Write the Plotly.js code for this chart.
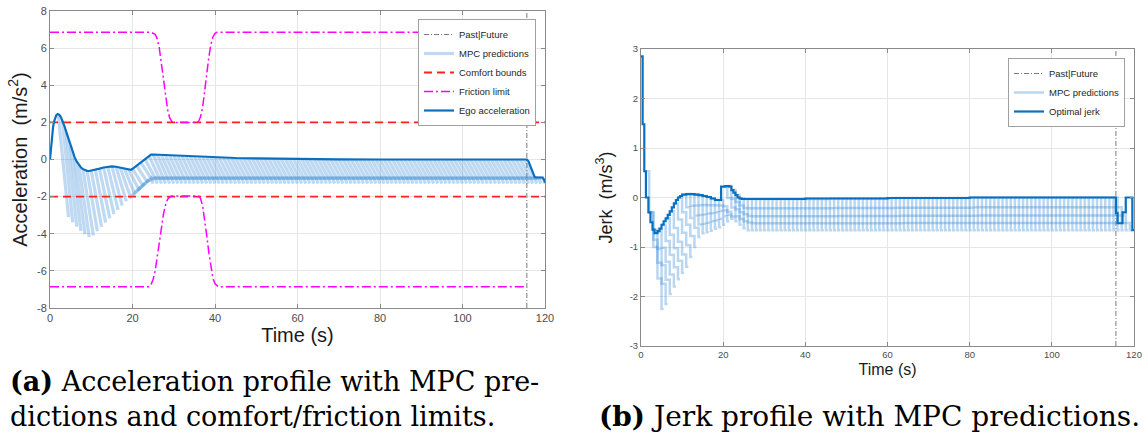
<!DOCTYPE html>
<html><head><meta charset="utf-8">
<script src="https://cdn.plot.ly/plotly-3.0.1.min.js"></script>
<style>html,body{margin:0;padding:0;background:#fff}#chart{width:1146px;height:438px}</style>
</head><body><div id="chart"></div><script>
// ---------- data ----------
const xTickVals = [0, 20, 40, 60, 80, 100, 120];
const xTickText = ['0', '20', '40', '60', '80', '100', '120'];
const accTickVals = [-8, -6, -4, -2, 0, 2, 4, 6, 8];
const accTickText = ['-8', '-6', '-4', '-2', '0', '2', '4', '6', '8'];
const jerkTickVals = [-3, -2, -1, 0, 1, 2, 3];
const jerkTickText = ['-3', '-2', '-1', '0', '1', '2', '3'];

const pastFutureT = 115.6;

// ego acceleration (m/s^2)
const egoAccT = [0,0.25,0.5,0.75,1,1.25,1.5,1.85,2.2,2.6,3,3.5,4,4.5,5,5.5,6,6.5,7,7.5,8,8.5,9,9.5,10,11,12,13,14,15,16,17,18,19,19.6,20,21,22,23,24,24.5,25,26,27,28,30,35,40,45,50,55,60,70,80,90,100,110,115.6,116,116.5,117,117.5,118,119.4,119.8,120];
const egoAcc = [0,0.7,1.3,1.75,2.05,2.25,2.38,2.45,2.42,2.3,2.1,1.8,1.45,1.1,0.75,0.4,0.1,-0.12,-0.3,-0.43,-0.52,-0.58,-0.61,-0.62,-0.6,-0.55,-0.49,-0.43,-0.39,-0.37,-0.39,-0.43,-0.48,-0.53,-0.56,-0.5,-0.33,-0.15,0.03,0.2,0.26,0.27,0.26,0.24,0.22,0.2,0.15,0.11,0.08,0.06,0.04,0.03,0.01,0,0,0,0,0,-0.1,-0.4,-0.75,-0.95,-0.97,-0.97,-1.1,-1.25];

// comfort bounds
const comfortT = [0, 120];
const comfortUpper = [2, 2];
const comfortLower = [-2, -2];

// friction limit
const fricUpT = [0,24.5,25.5,26,26.5,27,27.5,28,28.5,29,29.5,30,35.5,36,36.5,37,37.5,38,38.5,39,39.5,40,40.5,115];
const fricUp = [6.85,6.85,6.75,6.5,6.0,5.2,4.3,3.4,2.7,2.25,2.05,2.0,2.0,2.05,2.3,2.8,3.6,4.6,5.5,6.2,6.6,6.8,6.85,6.85];
const fricLowT = [0,24,24.5,25,25.5,26,26.5,27,27.5,28,28.5,29,29.5,36,36.5,37,37.5,38,38.5,39,39.5,40,40.8,115];
const fricLow = [-6.85,-6.85,-6.75,-6.45,-6.0,-5.2,-4.4,-3.6,-2.95,-2.45,-2.15,-2.02,-1.97,-1.97,-2.1,-2.5,-3.2,-4.1,-5.0,-5.8,-6.4,-6.7,-6.85,-6.85];

// MPC acceleration predictions: start time, start value, lowest value, then flat part and tail (null = none)
const accPredT = [2,3,4,5,6,7,8,9,10,11,12,13,14,15,16,17,18,19,20,21,22,23,24,25,26,27,28,29,30,31,32,33,34,35,36,37,38,39,40,41,42,43,44,45,46,47,48,49,50,51,52,53,54,55,56,57,58,59,60,61,62,63,64,65,66,67,68,69,70,71,72,73,74,75,76,77,78,79,80,81,82,83,84,85,86,87,88,89,90,91,92,93,94,95,96,97,98,99,100,101,102,103,104,105,106,107,108,109,110,111,112,113,114,115];
const accPredStart = [
 2.42,2.1,1.45,0.75,0.1,-0.3,-0.52,-0.61,-0.6,-0.55,
 -0.49,-0.43,-0.39,-0.37,-0.39,-0.43,-0.48,-0.53,-0.5,-0.33,
 -0.15,0.03,0.2,0.27,0.26,0.24,0.22,0.21,0.2,0.19,
 0.18,0.17,0.16,0.15,0.14,0.13,0.12,0.12,0.11,0.1,
 0.1,0.09,0.09,0.08,0.08,0.07,0.07,0.06,0.06,0.06,
 0.05,0.05,0.05,0.04,0.04,0.04,0.03,0.03,0.03,0.02,
 0.02,0.02,0.02,0.02,0.02,0.01,0.01,0.01,0.01,0.01,
 0.01,0.01,0.01,0.01,0,0,0,0,0,0,
 0,0,0,0,0,0,0,0,0,0,
 0,0,0,0,0,0,0,0,0,0,
 0,0,0,0,0,0,0,0,0,0,
 0,0,0,0];
const accPredLow = [
 -3.1,-3.38,-3.62,-3.85,-4.03,-4.17,-4.09,-3.86,-3.63,-3.4,
 -3.17,-2.94,-2.71,-2.48,-2.25,-2.02,-1.82,-1.6,-1.4,-1.19,
 -1,-1,-1,-1,-1,-1,-1,-1,-1,-1,
 -1,-1,-1,-1,-1,-1,-1,-1,-1,-1,
 -1,-1,-1,-1,-1,-1,-1,-1,-1,-1,
 -1,-1,-1,-1,-1,-1,-1,-1,-1,-1,
 -1,-1,-1,-1,-1,-1,-1,-1,-1,-1,
 -1,-1,-1,-1,-1,-1,-1,-1,-1,-1,
 -1,-1,-1,-1,-1,-1,-1,-1,-1,-1,
 -1,-1,-1,-1,-1,-1,-1,-1,-1,-1,
 -1,-1,-1,-1,-1,-1,-1,-1,-1,-1,
 -1,-1,-1,-1];
const accPredMid = [
 null,null,null,null,null,null,null,null,null,null,
 null,null,null,null,null,-1.6,-1.4,-1.19,-1,-1,
 -1,-1,-1,-1,-1,-1,-1,-1,-1,-1,
 -1,-1,-1,-1,-1,-1,-1,-1,-1,-1,
 -1,-1,-1,-1,-1,-1,-1,-1,-1,-1,
 -1,-1,-1,-1,-1,-1,-1,-1,-1,-1,
 -1,-1,-1,-1,-1,-1,-1,-1,-1,-1,
 -1,-1,-1,-1,-1,-1,-1,-1,-1,-1,
 -1,-1,-1,-1,-1,-1,-1,-1,-1,-1,
 -1,-1,-1,-1,-1,-1,-1,-1,-1,-1,
 -1,-1,-1,-1,-1,-1,-1,-1,-1,-1,
 -1,-1,-1,-1];
const accPredTail = [
 null,null,null,null,null,null,null,null,null,null,
 null,null,null,null,null,-1.5,-1.29,-1.08,-1.3,-1.3,
 -1.3,-1.3,-1.3,-1.3,-1.3,-1.3,-1.3,-1.3,-1.3,-1.3,
 -1.3,-1.3,-1.3,-1.3,-1.3,-1.3,-1.3,-1.3,-1.3,-1.3,
 -1.3,-1.3,-1.3,-1.3,-1.3,-1.3,-1.3,-1.3,-1.3,-1.3,
 -1.3,-1.3,-1.3,-1.3,-1.3,-1.3,-1.3,-1.3,-1.3,-1.3,
 -1.3,-1.3,-1.3,-1.3,-1.3,-1.3,-1.3,-1.3,-1.3,-1.3,
 -1.3,-1.3,-1.3,-1.3,-1.3,-1.3,-1.3,-1.3,-1.3,-1.3,
 -1.3,-1.3,-1.3,-1.3,-1.3,-1.3,-1.3,-1.3,-1.3,-1.3,
 -1.3,-1.3,-1.3,-1.3,-1.3,-1.3,-1.3,-1.3,-1.3,-1.3,
 -1.3,-1.3,-1.3,-1.3,-1.3,-1.3,-1.3,-1.3,-1.3,-1.3,
 -1.3,-1.3,-1.3,-1.3];

// optimal jerk (m/s^3), piecewise constant
const jerkT = [0,0.4,0.8,1.2,1.8,2.3,2.8,3.3,4.0,4.5,5.0,5.5,6.0,6.5,7.0,7.5,8.0,8.5,9.0,9.5,10.0,11.0,12.0,13.0,14.0,15.0,16.0,17.0,18.0,19.5,20.5,21.5,22.0,22.5,23.0,23.5,24.0,24.5,30,40,60,80,115.6,116.0,117.2,118.0,119.6,120];
const jerkVal = [2.85,1.48,0.53,0.0,-0.3,-0.5,-0.65,-0.72,-0.68,-0.63,-0.55,-0.48,-0.42,-0.35,-0.28,-0.2,-0.12,-0.05,0.0,0.03,0.06,0.07,0.07,0.06,0.05,0.03,0.01,-0.02,-0.05,0.22,0.23,0.22,0.15,0.1,0.05,0.0,-0.02,-0.03,-0.03,-0.02,-0.01,0.0,-0.31,-0.52,-0.3,0.0,-0.66,-0.66];

// MPC jerk predictions: start time, first level, last level, and the stair shape between them
const jerkPredShape = [0, 0.3, 0.55, 0.78, 1.0];
const jerkPredT = [1,2,3,4,5,6,7,8,9,10,11,12,13,14,15,16,17,18,19,20,21,22,23,24,25,26,27,28,29,30,31,32,33,34,35,36,37,38,39,40,41,42,43,44,45,46,47,48,49,50,51,52,53,54,55,56,57,58,59,60,61,62,63,64,65,66,67,68,69,70,71,72,73,74,75,76,77,78,79,80,81,82,83,84,85,86,87,88,89,90,91,92,93,94,95,96,97,98,99,100,101,102,103,104,105,106,107,108,109,110,111,112,113,114,115];
const jerkPredStart = [
 0.53,-0.3,-0.65,-0.68,-0.55,-0.42,-0.28,-0.12,0.0,0.06,
 0.07,0.07,0.06,0.05,0.03,0.01,-0.02,-0.05,-0.05,0.22,
 0.23,0.15,0.05,-0.02,-0.03,-0.03,-0.03,-0.03,-0.03,-0.03,
 -0.03,-0.03,-0.03,-0.03,-0.03,-0.03,-0.03,-0.03,-0.03,-0.03,
 -0.03,-0.03,-0.03,-0.03,-0.03,-0.02,-0.02,-0.02,-0.02,-0.02,
 -0.02,-0.02,-0.02,-0.02,-0.02,-0.02,-0.02,-0.02,-0.02,-0.02,
 -0.01,-0.01,-0.01,-0.01,-0.01,-0.01,-0.01,-0.01,-0.01,-0.01,
 -0.01,-0.01,-0.01,-0.01,-0.01,-0.01,-0.01,-0.01,-0.01,0,
 0,0,0,0,0,0,0,0,0,0,
 0,0,0,0,0,0,0,0,0,0,
 0,0,0,0,0,0,0,0,0,0,
 0,0,0,0,0];
const jerkPredLow = [
 -2.25,-2.15,-1.95,-1.8,-1.65,-1.52,-1.4,-1.2,-1.0,-0.8,
 -0.72,-0.7,-0.67,-0.63,-0.6,-0.55,-0.48,-0.43,-0.48,-0.55,
 -0.62,-0.66,-0.66,-0.66,-0.66,-0.66,-0.66,-0.66,-0.66,-0.66,
 -0.66,-0.66,-0.66,-0.66,-0.66,-0.66,-0.66,-0.66,-0.66,-0.66,
 -0.66,-0.66,-0.66,-0.66,-0.66,-0.66,-0.66,-0.66,-0.66,-0.66,
 -0.66,-0.66,-0.66,-0.66,-0.66,-0.66,-0.66,-0.66,-0.66,-0.66,
 -0.66,-0.66,-0.66,-0.66,-0.66,-0.66,-0.66,-0.66,-0.66,-0.66,
 -0.66,-0.66,-0.66,-0.66,-0.66,-0.66,-0.66,-0.66,-0.66,-0.66,
 -0.66,-0.66,-0.66,-0.66,-0.66,-0.66,-0.66,-0.66,-0.66,-0.66,
 -0.66,-0.66,-0.66,-0.66,-0.66,-0.66,-0.66,-0.66,-0.66,-0.66,
 -0.66,-0.66,-0.66,-0.66,-0.66,-0.66,-0.66,-0.66,-0.66,-0.66,
 -0.66,-0.66,-0.66,-0.66,-0.66];

// ---------- build prediction polylines ----------
const ACC_LOW_OFF = 2.5, ACC_MID_OFF = 4.5, ACC_TAIL_OFF = 5.0;
const accPX = [], accPY = [];
accPredT.forEach((t0, i) => {
  accPX.push(t0, t0 + ACC_LOW_OFF); accPY.push(accPredStart[i], accPredLow[i]);
  if (accPredMid[i] !== null) { accPX.push(t0 + ACC_MID_OFF); accPY.push(accPredMid[i]); }
  if (accPredTail[i] !== null) { accPX.push(t0 + ACC_TAIL_OFF); accPY.push(accPredTail[i]); }
  accPX.push(null); accPY.push(null);
});
const JERK_STEP = 1.0, JERK_LAST = 0.5;
const jerkPX = [], jerkPY = [];
jerkPredT.forEach((t0, i) => {
  const a = jerkPredStart[i], b = jerkPredLow[i];
  jerkPredShape.forEach((p, k) => {
    const v = a + (b - a) * p, x0 = t0 + k * JERK_STEP;
    const len = (k === jerkPredShape.length - 1) ? JERK_LAST : JERK_STEP;
    jerkPX.push(x0, x0 + len); jerkPY.push(v, v);
  });
  jerkPX.push(null); jerkPY.push(null);
});

// ---------- styles ----------
const EGO = '#0b6fbf';
const SANS = 'Liberation Sans, Arial, sans-serif';
const SERIF = 'DejaVu Serif, serif';
const PF_LINE = {color: '#7a7a7a', width: 1, dash: '5px,2px,1px,2px'};

const traces = [
  {x: [pastFutureT, pastFutureT], y: [-8, 8], xaxis: 'x', yaxis: 'y', mode: 'lines', line: PF_LINE, name: 'Past|Future', legend: 'legend'},
  {x: accPX, y: accPY, xaxis: 'x', yaxis: 'y', mode: 'lines', line: {color: 'rgba(40,130,210,0.3)', width: 3.2}, name: 'MPC predictions', legend: 'legend'},
  {x: comfortT.concat([null], comfortT), y: comfortUpper.concat([null], comfortLower), xaxis: 'x', yaxis: 'y', mode: 'lines', line: {color: '#ff2020', width: 1.8, dash: '8px,5px'}, name: 'Comfort bounds', legend: 'legend'},
  {x: fricUpT.concat([null], fricLowT), y: fricUp.concat([null], fricLow), xaxis: 'x', yaxis: 'y', mode: 'lines', line: {color: '#ff00ff', width: 1.5, dash: '9px,3px,2px,3px'}, name: 'Friction limit', legend: 'legend'},
  {x: egoAccT, y: egoAcc, xaxis: 'x', yaxis: 'y', mode: 'lines', line: {color: EGO, width: 2.2}, name: 'Ego acceleration', legend: 'legend'},

  {x: [pastFutureT, pastFutureT], y: [-3, 3], xaxis: 'x2', yaxis: 'y2', mode: 'lines', line: PF_LINE, name: 'Past|Future', legend: 'legend2'},
  {x: jerkPX, y: jerkPY, xaxis: 'x2', yaxis: 'y2', mode: 'lines', line: {color: 'rgba(40,130,210,0.32)', width: 2.5}, name: 'MPC predictions', legend: 'legend2'},
  {x: jerkT, y: jerkVal, xaxis: 'x2', yaxis: 'y2', mode: 'lines', line: {color: EGO, width: 2.2, shape: 'hv'}, name: 'Optimal jerk', legend: 'legend2'}
];

function ax(extra) {
  return Object.assign({
    showline: true, linecolor: '#8a8a8a', linewidth: 1, mirror: 'ticks',
    ticks: 'inside', ticklen: 4, tickcolor: '#8a8a8a',
    showgrid: true, gridcolor: '#e6e6e6', zeroline: false,
    tickmode: 'array'
  }, extra);
}
const W = 1146, H = 438;
const legendStyle = {bgcolor: '#ffffff', bordercolor: '#a0a0a0', borderwidth: 1,
  font: {family: SANS, size: 9.5, color: '#262626'}, tracegroupgap: 0, itemwidth: 30,
  xanchor: 'right', yanchor: 'top'};

const layout = {
  width: W, height: H, margin: {l: 0, r: 0, t: 0, b: 0},
  paper_bgcolor: '#ffffff', plot_bgcolor: '#ffffff', showlegend: true, hovermode: false,
  xaxis: ax({domain: [50 / W, 545 / W], anchor: 'y', range: [0, 120], tickvals: xTickVals, ticktext: xTickText,
    tickfont: {family: SANS, size: 11, color: '#4d4d4d'},
    title: {text: 'Time (s)', font: {family: SANS, size: 20, color: '#1a1a1a'}, standoff: 3}}),
  yaxis: ax({domain: [130 / H, 427 / H], anchor: 'x', range: [-8, 8], tickvals: accTickVals, ticktext: accTickText,
    tickfont: {family: SANS, size: 11, color: '#4d4d4d'},
    title: {text: 'Acceleration&nbsp; (m/s<sup>2</sup>)', font: {family: SANS, size: 20, color: '#1a1a1a'}, standoff: 4}}),
  xaxis2: ax({domain: [641 / W, 1134 / W], anchor: 'y2', range: [0, 120], tickvals: xTickVals, ticktext: xTickText,
    tickfont: {family: SANS, size: 9.5, color: '#4d4d4d'},
    title: {text: 'Time (s)', font: {family: SANS, size: 16, color: '#1a1a1a'}, standoff: 4}}),
  yaxis2: ax({domain: [92 / H, 389 / H], anchor: 'x2', range: [-3, 3], tickvals: jerkTickVals, ticktext: jerkTickText,
    tickfont: {family: SANS, size: 9.5, color: '#4d4d4d'},
    title: {text: 'Jerk&nbsp; (m/s<sup>3</sup>)', font: {family: SANS, size: 18, color: '#1a1a1a'}, standoff: 12}}),
  legend: Object.assign({x: 536 / W, y: (H - 19) / H}, legendStyle),
  legend2: Object.assign({x: 1125 / W, y: (H - 58) / H}, legendStyle),
  annotations: [
    {xref: 'paper', yref: 'paper', x: 8 / W, y: (H - 381) / H, xanchor: 'left', yanchor: 'middle', showarrow: false,
     text: '<b>(a)</b> Acceleration profile with MPC pre-', font: {family: SERIF, size: 27, color: '#000'}},
    {xref: 'paper', yref: 'paper', x: 8 / W, y: (H - 416) / H, xanchor: 'left', yanchor: 'middle', showarrow: false,
     text: 'dictions and comfort/friction limits.', font: {family: SERIF, size: 27, color: '#000'}},
    {xref: 'paper', yref: 'paper', x: 869 / W, y: (H - 416) / H, xanchor: 'center', yanchor: 'middle', showarrow: false,
     text: '<b>(b)</b> Jerk profile with MPC predictions.', font: {family: SERIF, size: 28, color: '#000'}}
  ]
};

Plotly.newPlot('chart', traces, layout, {staticPlot: true, displayModeBar: false});
</script></body></html>
